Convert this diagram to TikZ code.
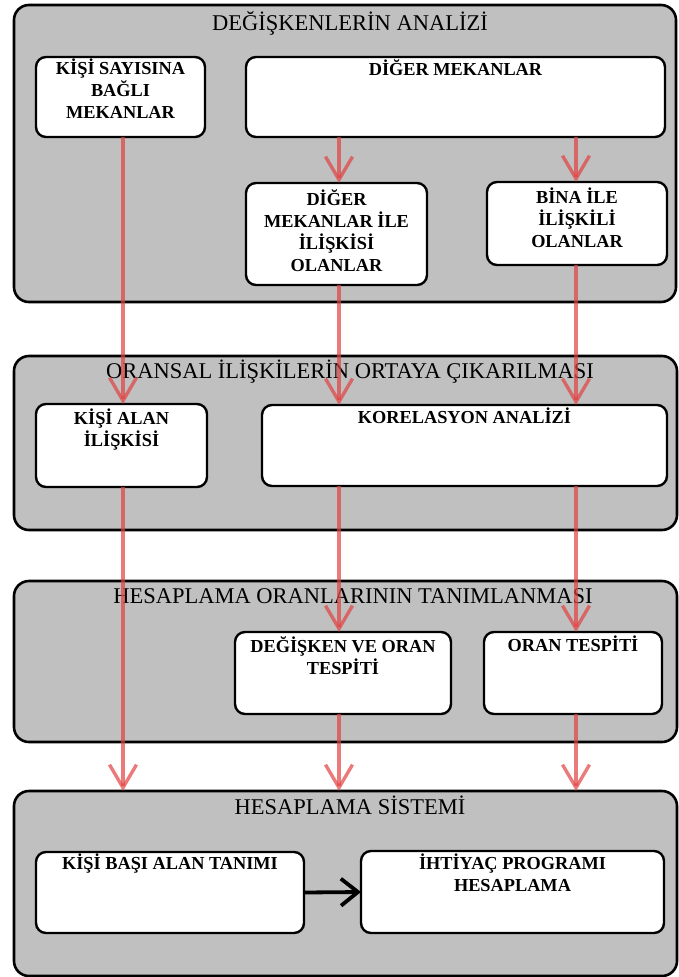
\documentclass[tikz,border=0pt]{standalone}
\usepackage{fontspec}
\setmainfont{Liberation Serif}
\usetikzlibrary{arrows.meta}
\definecolor{panelgray}{RGB}{192,192,192}
\definecolor{flowred}{RGB}{226,66,66}
\begin{document}
\begin{tikzpicture}[x=1pt,y=-1pt,
  panel/.style={draw=black, line width=2.6pt, fill=panelgray, rounded corners=15pt,
    anchor=north west, inner sep=0pt, outer sep=0pt},
  box/.style={draw=black, line width=2.4pt, fill=white, rounded corners=10pt,
    anchor=north west, inner sep=0pt, outer sep=0pt},
  ttl/.style={font=\fontsize{22.5}{26}\selectfont, anchor=base, inner sep=0pt},
  btxt/.style={font=\bfseries\fontsize{18.3}{22}\selectfont, align=center, anchor=north, inner sep=0pt},
  flow/.style={draw=flowred, draw opacity=0.7, line width=3.4pt,
    -{Straight Barb[length=23pt,width=27pt,line width=3.4pt]}},
  blk/.style={draw=black, line width=3.8pt,
    -{Straight Barb[length=17pt,width=27pt,line width=3.8pt]}}
]
\useasboundingbox (0,0) rectangle (678,977);

% panels
\node[panel, minimum width=662pt, minimum height=297pt] (p1) at (14,5) {};
\node[panel, minimum width=663pt, minimum height=174pt] (p2) at (14,356) {};
\node[panel, minimum width=663pt, minimum height=161pt] (p3) at (14,581) {};
\node[panel, minimum width=663pt, minimum height=185pt] (p4) at (14,791) {};

% boxes
\node[box, minimum width=169pt, minimum height=80pt] (b1) at (36,57) {};
\node[box, minimum width=419pt, minimum height=80pt] (b2) at (246,57) {};
\node[box, minimum width=181pt, minimum height=102pt] (b3) at (246,183) {};
\node[box, minimum width=180pt, minimum height=83pt] (b4) at (487,182) {};
\node[box, minimum width=171pt, minimum height=83pt] (b5) at (36,404) {};
\node[box, minimum width=405pt, minimum height=81pt] (b6) at (262,405) {};
\node[box, minimum width=216pt, minimum height=82pt] (b7) at (235,632) {};
\node[box, minimum width=178pt, minimum height=82pt] (b8) at (484,632) {};
\node[box, minimum width=268pt, minimum height=81pt] (b9) at (36,852) {};
\node[box, minimum width=303pt, minimum height=82pt] (b10) at (361,851) {};

% titles
\node[ttl] (t1) at (350,30) {DEĞİŞKENLERİN ANALİZİ};
\node[ttl] (t2) at (350,378) {ORANSAL İLİŞKİLERİN ORTAYA ÇIKARILMASI};
\node[ttl] (t3) at (353,603) {HESAPLAMA ORANLARININ TANIMLANMASI};
\node[ttl] (t4) at (350,814) {HESAPLAMA SİSTEMİ};

% box labels
\node[btxt] (l1) at ([yshift=-2pt]b1.north) {KİŞİ SAYISINA\\BAĞLI\\MEKANLAR};
\node[btxt] (l2) at ([yshift=-2pt]b2.north) {DİĞER MEKANLAR};
\node[btxt] (l3) at ([yshift=-6pt]b3.north) {DİĞER\\MEKANLAR İLE\\İLİŞKİSİ\\OLANLAR};
\node[btxt] (l4) at ([yshift=-6pt]b4.north) {BİNA İLE\\İLİŞKİLİ\\OLANLAR};
\node[btxt] (l5) at ([yshift=-5pt]b5.north) {KİŞİ ALAN\\İLİŞKİSİ};
\node[btxt] (l6) at ([yshift=-3pt]b6.north) {KORELASYON ANALİZİ};
\node[btxt] (l7) at ([yshift=-4pt]b7.north) {DEĞİŞKEN VE ORAN\\TESPİTİ};
\node[btxt] (l8) at ([yshift=-4pt]b8.north) {ORAN TESPİTİ};
\node[btxt] (l9) at ([yshift=-2pt]b9.north) {KİŞİ BAŞI ALAN TANIMI};
\node[btxt] (l10) at ([yshift=-3pt]b10.north) {İHTİYAÇ PROGRAMI\\HESAPLAMA};

% columns
\coordinate (c1) at (123,0);
\coordinate (c2) at (339,0);
\coordinate (c3) at (576,0);

% red flows
\draw[flow] (b1.south -| c1) -- (b5.north -| c1);
\draw[flow] (b2.south -| c2) -- (b3.north -| c2);
\draw[flow] (b2.south -| c3) -- (b4.north -| c3);
\draw[flow] (b3.south -| c2) -- (b6.north -| c2);
\draw[flow] (b4.south -| c3) -- (b6.north -| c3);
\draw[flow] (b5.south -| c1) -- (p4.north -| c1);
\draw[flow] (b6.south -| c2) -- (b7.north -| c2);
\draw[flow] (b6.south -| c3) -- (b8.north -| c3);
\draw[flow] (b7.south -| c2) -- (p4.north -| c2);
\draw[flow] (b8.south -| c3) -- (p4.north -| c3);

% black arrow
\draw[blk] (b9.east) -- (b10.west);
\end{tikzpicture}
\end{document}
